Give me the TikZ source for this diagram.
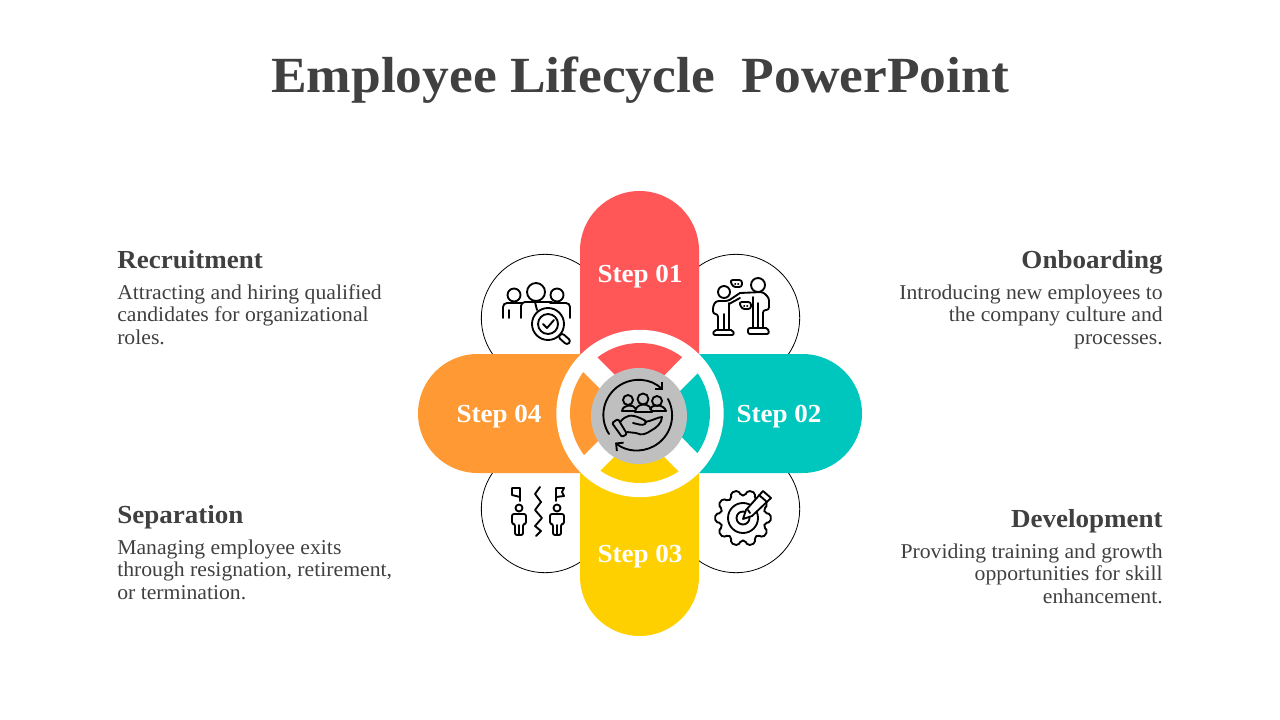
\documentclass[tikz,border=0pt]{standalone}
\usepackage{fontspec}
\setmainfont{Liberation Serif}
\newfontfamily\titleserif[FakeStretch=1.055]{Liberation Serif}
\newfontfamily\headserif[FakeStretch=1.04]{Liberation Serif}
\newfontfamily\bodyserif[FakeStretch=1.03]{Liberation Serif}
\usepackage{tikz}
\usetikzlibrary{arrows.meta}
\usetikzlibrary{positioning}
\definecolor{stepred}{HTML}{FF5757}
\definecolor{stepteal}{HTML}{00C7BE}
\definecolor{stepyellow}{HTML}{FFD000}
\definecolor{steporange}{HTML}{FF9933}
\definecolor{hubgrey}{HTML}{BFBFBF}
\definecolor{textgrey}{HTML}{404040}

\begin{document}
\begin{tikzpicture}[x=0.75pt,y=-0.75pt,
    titletext/.style={font=\titleserif\fontsize{38}{44}\selectfont\bfseries, text=textgrey, inner sep=0pt},
    headtext/.style={font=\headserif\fontsize{19.5}{23}\selectfont\bfseries, text=textgrey, inner sep=0pt, text height=14pt, text depth=5pt},
    bodytext/.style={font=\bodyserif\fontsize{15.8}{16.9}\selectfont, text=textgrey, inner sep=0pt, execute at begin node=\strut},
    steptext/.style={font=\headserif\fontsize{19.5}{23}\selectfont\bfseries, text=white, inner sep=0pt},
    iconcircle/.style={circle, draw=black, line width=0.6pt, fill=white, minimum size=95.5pt, inner sep=0pt},
    iconline/.style={draw=black, line width=1.4pt, line cap=round, line join=round},
    >={Straight Barb[length=4pt,width=8pt]}]
    \useasboundingbox (0,0) rectangle (1280,720);

    \node[titletext, anchor=base] (title) at (640,93) {Employee Lifecycle\ \ PowerPoint};

    \node[iconcircle] (recruitcircle) at (545,318) {};
    \node[iconcircle] (onboardcircle) at (736,318) {};
    \node[iconcircle] (separatecircle) at (545,509) {};
    \node[iconcircle] (developcircle) at (736,509) {};

    \fill[stepred] (580,413) -- (580,250.5) arc[start angle=180, end angle=360, radius=59.5] -- (699,413) -- cycle;
    \fill[stepyellow] (580,413) -- (580,576.5) arc[start angle=180, end angle=0, radius=59.5] -- (699,413) -- cycle;
    \fill[stepteal] (640,354) -- (802.5,354) arc[start angle=270, end angle=450, radius=59.5] -- (640,473) -- cycle;
    \fill[steporange] (640,354) -- (477.5,354) arc[start angle=270, end angle=90, radius=59.5] -- (640,473) -- cycle;

    \node[circle, fill=white, minimum size=125.5pt, inner sep=0pt] (ring) at (640,413.5) {};
    \begin{scope}[shift={(640,413)}]
        \clip (0,0) circle[radius=70];
        \fill[stepred] (-63,-76) -- (0,-13) -- (63,-77) -- cycle;
        \fill[stepteal] (18,0) -- (78,-60) -- (78,61) -- cycle;
        \fill[steporange] (-15,1) -- (-80,-64) -- (-80,66) -- cycle;
        \fill[stepyellow] (-1,19) -- (-62,80) -- (60,80) -- cycle;
    \end{scope}
    \node[circle, fill=hubgrey, minimum size=72pt, inner sep=0pt] (hub) at (639,416) {};

    \node[steptext] (step1) at (640,277) {Step 01};
    \node[steptext] (step2) at (779,417) {Step 02};
    \node[steptext] (step3) at (640,557) {Step 03};
    \node[steptext] (step4) at (499,417) {Step 04};

    \node[headtext, anchor=base west] (recruithead) at (117,268) {Recruitment};
    \node[bodytext, align=left, below=7pt of recruithead.south west, anchor=north west] (recruitbody) {Attracting and hiring qualified\\candidates for organizational\\roles.};
    \node[headtext, anchor=base east] (onboardhead) at (1163,268) {Onboarding};
    \node[bodytext, align=right, below=7pt of onboardhead.south east, anchor=north east] (onboardbody) {Introducing new employees to\\the company culture and\\processes.};
    \node[headtext, anchor=base west] (separatehead) at (117,523) {Separation};
    \node[bodytext, align=left, below=7pt of separatehead.south west, anchor=north west] (separatebody) {Managing employee exits\\through resignation, retirement,\\or termination.};
    \node[headtext, anchor=base east] (develophead) at (1163,527) {Development};
    \node[bodytext, align=right, below=7pt of develophead.south east, anchor=north east] (developbody) {Providing training and growth\\opportunities for skill\\enhancement.};

    % recruitment icon
    \draw[iconline] (514,295) circle[radius=6.5];
    \draw[iconline] (536,292) circle[radius=9];
    \draw[iconline] (557,295) circle[radius=6.5];
    \draw[iconline, rounded corners=3pt] (503,318) -- (503,303) -- (522,303);
    \draw[iconline, rounded corners=3pt] (521,318) -- (521,302) -- (552,302);
    \draw[iconline, rounded corners=3pt] (550,303) -- (570,303) -- (570,318);
    \draw[iconline] (509,310) -- (509,318) (535,302) -- (537,310);
    \draw[iconline, fill=white] (548,324) circle[radius=16];
    \draw[iconline] (548,324) circle[radius=10];
    \draw[iconline] (543,324) -- (547,328) -- (554,320);
    \draw[iconline, rounded corners=2pt] (558,337) -- (562,333) -- (571,341) -- (567,345) -- cycle;

    % onboarding icon
    \draw[iconline] (724,292) circle[radius=6];
    \draw[iconline] (758,285) circle[radius=7];
    \draw[iconline, rounded corners=2pt] (740,293) -- (763,292) -- (769,298) -- (769,310) -- (763,310) -- (763,327);
    \draw[iconline] (753,297) -- (753,327) (758,303) -- (758,327);
    \draw[iconline, rounded corners=1.5pt] (748,334) -- (748,328) -- (768,328) -- (769,334) -- cycle;
    \draw[iconline, rounded corners=2pt] (740,293) -- (728,301) -- (716,301) -- (713,306) -- (713,314) -- (718,314) -- (718,330);
    \draw[iconline] (729,303) -- (729,330) (724,314) -- (724,330) (740,298) -- (729,304);
    \draw[iconline, rounded corners=1.5pt] (713,335) -- (714,330) -- (733,330) -- (734,335) -- cycle;
    \draw[iconline, rounded corners=2pt] (730,280) -- (742,280) -- (742,287) -- (733,287) -- cycle;
    \draw[iconline, rounded corners=2pt] (739,302) -- (751,302) -- (751,309) -- (742,309) -- cycle;
    \draw[iconline] (735,284) -- (735.4,284) (738,284) -- (738.4,284) (744,306) -- (744.4,306) (747,306) -- (747.4,306);

    % separation icon
    \draw[iconline] (520,501) -- (520,488) -- (512,488) -- (512,495) -- (520,497);
    \draw[iconline] (556,501) -- (556,488) -- (564,488) -- (562,492) -- (564,496) -- (556,497);
    \draw[iconline] (540,487) -- (535,494) -- (541,502) -- (535,510) -- (542,518) -- (535,526) -- (541,531) -- (536,536);
    \draw[iconline] (519,508) circle[radius=3.5];
    \draw[iconline] (557,508) circle[radius=3.5];
    \draw[iconline, rounded corners=1.5pt] (515,535) -- (523,535) -- (523,524) -- (526,524) -- (526,514) -- (512,514) -- (512,524) -- (515,524) -- cycle;
    \draw[iconline, rounded corners=1.5pt] (553,535) -- (561,535) -- (561,524) -- (564,524) -- (564,514) -- (550,514) -- (550,524) -- (553,524) -- cycle;
    \draw[iconline] (519,525) -- (519,535) (557,525) -- (557,535);

    % development icon
    \begin{scope}[shift={(743,518)}]
        \draw[iconline, rounded corners=1.5pt] (-13:22.5) \foreach \a in {0,36,...,288} {-- (\a-8:28) -- (\a+8:28) -- (\a+13:22.5) -- (\a+23:22.5)} -- (316:28) -- (332:28) -- (337:22.5) -- cycle;
        \draw[iconline] (0,0) circle[radius=15];
        \draw[iconline] (0,0) circle[radius=6.5];
    \end{scope}
    \draw[iconline, fill=white] (743,519) -- (746,510) -- (763,491) -- (771,498) -- (752,516) -- cycle;
    \draw[iconline] (759,495) -- (767,502) (748,510) -- (750,513);

    % hub icon
    \draw[iconline, ->] (609,434) arc[start angle=147, end angle=315, radius=35];
    \draw[iconline, ->] (668,399) arc[start angle=-28, end angle=129, radius=35];
    \draw[iconline] (628,400) circle[radius=5];
    \draw[iconline] (643,399) circle[radius=5.5];
    \draw[iconline] (657,401) circle[radius=5];
    \draw[iconline] (622,411) .. controls (623,404) and (634,404) .. (636,409);
    \draw[iconline] (650,409) .. controls (652,404) and (664,404) .. (666,411);
    \draw[iconline] (622,411) -- (635,411) (651,411) -- (666,411);
    \draw[iconline] (635,412) .. controls (636,402) and (651,402) .. (652,412) -- cycle;
    \draw[iconline, rounded corners=1pt] (612,423) -- (618,419) -- (627,434) -- (622,437) -- cycle;
    \draw[iconline] (620,422) .. controls (626,415) and (631,414) .. (640,418) .. controls (644,420) and (648,421) .. (645,424) .. controls (642,426) and (638,424) .. (633,423);
    \draw[iconline] (645,422) .. controls (652,421) and (658,417) .. (662,417) .. controls (662,423) and (656,428) .. (652,430) .. controls (646,434) and (642,436) .. (636,433) -- (627,432);
\end{tikzpicture}
\end{document}
